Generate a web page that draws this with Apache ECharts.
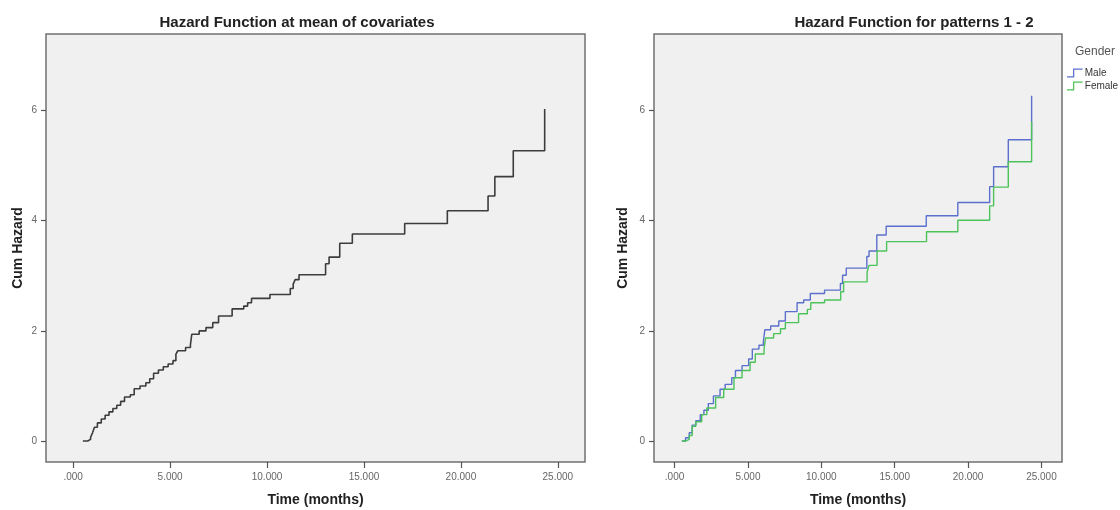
<!DOCTYPE html>
<html>
<head>
<meta charset="utf-8">
<title>Hazard Function</title>
<script src="https://cdn.jsdelivr.net/npm/echarts@6/dist/echarts.min.js"></script>
<style>
  html, body { margin: 0; padding: 0; background: #fff; }
  #chart { width: 1120px; height: 510px; }
</style>
</head>
<body>
<div id="chart"></div>
<script>
// tick labels
var xTicks = [0, 5, 10, 15, 20, 25];
var yTicks = [0, 2, 4, 6];

// hazard at mean of covariates (step points: time, cum hazard)
var meanTimes = [0.50, 0.75, 0.90, 1.00, 1.10, 1.25, 1.45, 1.65, 1.85, 2.05, 2.25, 2.45, 2.65, 2.95, 3.15,
  3.45, 3.75, 3.95, 4.15, 4.40, 4.65, 4.90, 5.15, 5.30, 5.40, 5.80, 6.05, 6.12, 6.50, 6.85, 7.20, 7.50,
  8.20, 8.80, 9.00, 9.20, 10.15, 11.20, 11.35, 11.45, 11.65, 13.02, 13.20, 13.75, 14.40, 17.10, 19.30,
  21.40, 21.75, 22.70, 24.32];
var meanHazard = [0.00, 0.03, 0.07, 0.15, 0.25, 0.33, 0.40, 0.47, 0.53, 0.59, 0.65, 0.72, 0.80, 0.84, 0.95,
  1.00, 1.06, 1.13, 1.23, 1.29, 1.35, 1.40, 1.46, 1.58, 1.64, 1.70, 1.75, 1.94, 2.00, 2.06, 2.15, 2.27,
  2.40, 2.45, 2.51, 2.59, 2.66, 2.77, 2.85, 2.93, 3.02, 3.22, 3.34, 3.59, 3.76, 3.95, 4.18,
  4.45, 4.80, 5.27, 6.03];

// hazard for patterns 1 - 2
var maleTimes = [0.50, 0.75, 1.00, 1.20, 1.45, 1.75, 2.00, 2.30, 2.65, 3.10, 3.45, 3.90, 4.15, 4.60, 5.05,
  5.30, 5.75, 6.05, 6.15, 6.55, 7.10, 7.55, 8.35, 8.80, 9.25, 10.22, 11.30, 11.45, 11.70, 13.10, 13.25,
  13.78, 14.42, 17.15, 19.30, 21.47, 21.74, 22.74, 24.33];
var maleHazard = [0.00, 0.06, 0.15, 0.29, 0.37, 0.48, 0.56, 0.68, 0.82, 0.94, 1.03, 1.15, 1.28, 1.37, 1.49,
  1.67, 1.74, 1.80, 2.02, 2.09, 2.18, 2.35, 2.51, 2.56, 2.68, 2.74, 2.86, 3.01, 3.14, 3.35, 3.45,
  3.74, 3.90, 4.09, 4.33, 4.62, 4.98, 5.47, 6.27];
var femaleTimes = [0.50, 0.75, 1.00, 1.20, 1.45, 1.85, 2.20, 2.80, 3.35, 4.05, 4.60, 5.15, 5.50, 6.10, 6.20,
  6.75, 7.22, 7.55, 8.45, 9.05, 9.28, 10.22, 11.32, 11.52, 13.12, 13.25, 13.80, 14.45, 17.17, 19.30,
  21.47, 21.74, 22.74, 24.33];
var femaleHazard = [0.00, 0.03, 0.10, 0.27, 0.35, 0.48, 0.60, 0.79, 0.94, 1.15, 1.28, 1.43, 1.58, 1.68, 1.87,
  1.95, 2.04, 2.15, 2.31, 2.39, 2.51, 2.56, 2.71, 2.89, 3.07, 3.19, 3.45, 3.62, 3.80, 4.01,
  4.27, 4.61, 5.07, 5.80];

function pairs(xs, ys) {
  return xs.map(function (x, i) { return [x, ys[i]]; });
}

var FONT = '"Liberation Sans", Arial, sans-serif';

function xAxisOf(idx) {
  return {
    type: 'value', gridIndex: idx, min: -1.4, max: 26.4,
    name: 'Time (months)', nameLocation: 'middle', nameGap: 31,
    nameTextStyle: { fontFamily: FONT, fontSize: 14, fontWeight: 'bold', color: '#222' },
    axisLine: { show: false, onZero: false },
    axisTick: { show: true, length: 6, customValues: xTicks, lineStyle: { color: '#555', width: 1.2 } },
    axisLabel: {
      customValues: xTicks, margin: 10, fontFamily: FONT, fontSize: 10, color: '#666',
      formatter: function (v) { return v === 0 ? '.000' : v.toFixed(3); }
    },
    splitLine: { show: false }
  };
}

function yAxisOf(idx, gap) {
  return {
    type: 'value', gridIndex: idx, min: -0.38, max: 7.39,
    name: 'Cum Hazard', nameLocation: 'middle', nameGap: gap,
    nameTextStyle: { fontFamily: FONT, fontSize: 14, fontWeight: 'bold', color: '#222' },
    axisLine: { show: false, onZero: false },
    axisTick: { show: true, length: 5, customValues: yTicks, lineStyle: { color: '#555', width: 1.2 } },
    axisLabel: { customValues: yTicks, margin: 9, fontFamily: FONT, fontSize: 10, color: '#666' },
    splitLine: { show: false }
  };
}

var myChart = echarts.init(document.getElementById('chart'));
var option = {
  animation: false,
  backgroundColor: '#fff',
  title: [
    { text: 'Hazard Function at mean of covariates', left: 292, top: 10, textAlign: 'center',
      textStyle: { fontFamily: FONT, fontSize: 15, fontWeight: 'bold', color: '#222' } },
    { text: 'Hazard Function for patterns 1 - 2', left: 909, top: 10, textAlign: 'center',
      textStyle: { fontFamily: FONT, fontSize: 15, fontWeight: 'bold', color: '#222' } },
    { text: 'Gender', left: 1070, top: 41,
      textStyle: { fontFamily: FONT, fontSize: 12, fontWeight: 'normal', color: '#555' } }
  ],
  legend: {
    data: ['Male', 'Female'],
    orient: 'vertical', left: 1062, top: 63, itemGap: 3,
    itemWidth: 18, itemHeight: 9,
    icon: 'path://M0,9 L7,9 L7,0 L18,0 L18,1.4 L8.4,1.4 L8.4,10.4 L0,10.4 Z',
    textStyle: { fontFamily: FONT, fontSize: 10, color: '#333', padding: [0, 0, 0, -4] }
  },
  grid: [
    { left: 46, top: 34, width: 539, height: 428, show: true, outerBoundsMode: 'none',
      backgroundColor: '#f0f0f0', borderColor: '#707070', borderWidth: 1.5 },
    { left: 654, top: 34, width: 408, height: 428, show: true, outerBoundsMode: 'none',
      backgroundColor: '#f0f0f0', borderColor: '#707070', borderWidth: 1.5 }
  ],
  xAxis: [xAxisOf(0), xAxisOf(1)],
  yAxis: [yAxisOf(0, 21), yAxisOf(1, 24)],
  series: [
    {
      name: 'Mean', type: 'line', step: 'end', xAxisIndex: 0, yAxisIndex: 0,
      showSymbol: false, data: pairs(meanTimes, meanHazard),
      lineStyle: { color: '#3c3c3c', width: 1.6 }
    },
    {
      name: 'Male', type: 'line', step: 'end', xAxisIndex: 1, yAxisIndex: 1,
      showSymbol: false, data: pairs(maleTimes, maleHazard),
      itemStyle: { color: '#5b70cc' },
      lineStyle: { color: '#5b70cc', width: 1.4 }
    },
    {
      name: 'Female', type: 'line', step: 'end', xAxisIndex: 1, yAxisIndex: 1,
      showSymbol: false, data: pairs(femaleTimes, femaleHazard),
      itemStyle: { color: '#4cc35a' },
      lineStyle: { color: '#4cc35a', width: 1.4 }
    }
  ]
};
myChart.setOption(option);
</script>
</body>
</html>
